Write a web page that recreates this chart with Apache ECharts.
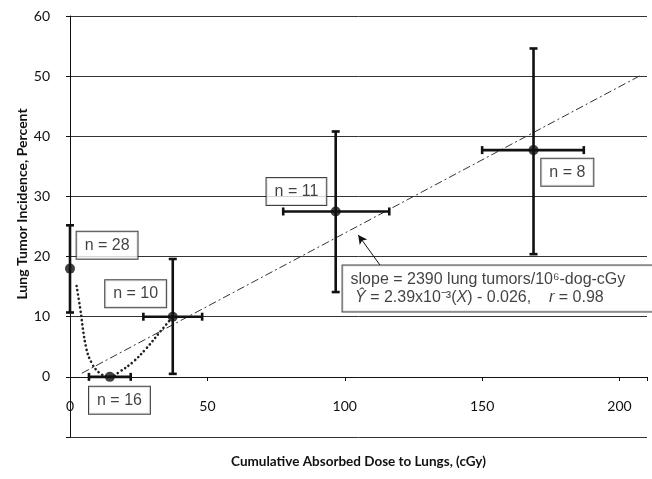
<!DOCTYPE html>
<html><head><meta charset="utf-8">
<script src="https://cdn.jsdelivr.net/npm/echarts@6/dist/echarts.min.js"></script>
<style>html,body{margin:0;padding:0;background:#fff}#c{width:652px;height:479px}</style>
</head><body><div id="c"></div>
<script>
// Data points: dose (cGy) and lung tumor incidence (%)
var doseX   = [0,    14.5, 37.4, 96.7, 168.7];
var incidY  = [18,   0,    10,   27.5, 37.7];
var xLow    = [0,    6.9,  26.7, 77.6, 150];
var xHigh   = [0,    22.1, 48.1, 116.2, 187];
var yLow    = [10.7, 0,    0.5,  14.1, 20.4];
var yHigh   = [25.2, 0,    19.6, 40.8, 54.6];
// Linear trend line (dash-dot) endpoints
var trendX = [4.3, 208];
var trendY = [0.6, 50.2];
// Dotted fitted curve through low-dose points
var curveX = [2.4, 3.6, 5.8, 7.9, 10.9, 14.6, 18.2, 23, 27.9, 32.8, 37.4];
var curveY = [15.1, 11.7, 5, 2.3, 0.6, 0, 0.9, 2.5, 4.8, 7.5, 10];
// Group size labels and their anchor (data units)
var nTexts = ['n = 28', 'n = 16', 'n = 10', 'n = 11', 'n = 8'];
var nAnchorX = [13.5, 18.0, 23.9, 82.4, 181];
var nAnchorY = [21.9, -3.9, 13.8, 30.8, 34.0];
// Axis tick labels
var xTicks = [0, 50, 100, 150, 200];
var yTicks = [0, 10, 20, 30, 40, 50, 60];
// Annotation
var eqAnchor = [99.2, 18.5];
var arrowFrom = [112.8, 18.6];
var arrowTo = [104.9, 23.6];

var chart = echarts.init(document.getElementById('c'), null, {renderer:'canvas'});
var tickFont = {fontFamily:'Lato', fontSize:14, color:'#111'};

var errData = doseX.map(function(x,i){return [x, incidY[i], xLow[i], xHigh[i], yLow[i], yHigh[i]];});

var option = {
  backgroundColor:'#fff',
  animation:false,
  grid:{left:70, top:16, right:5, bottom:42, containLabel:false, outerBoundsMode:'none'},
  xAxis:{
    type:'value', min:0, max:210, interval:50, position:'bottom', offset:-60,
    axisLine:{show:true, onZero:false, lineStyle:{color:'#111', width:1}},
    axisTick:{show:true, length:4, lineStyle:{color:'#111'}},
    axisLabel:Object.assign({margin:22, formatter:function(v){return xTicks.indexOf(v)>=0? String(v):'';}}, tickFont),
    splitLine:{show:false},
    name:'Cumulative Absorbed Dose to Lungs, (cGy)', nameLocation:'middle', nameGap:78,
    nameTextStyle:{fontFamily:'Lato', fontWeight:'bold', fontSize:13.5, color:'#111'}
  },
  yAxis:{
    type:'value', min:-10, max:60, interval:10,
    axisLine:{show:true, onZero:false, lineStyle:{color:'#111', width:1}},
    axisTick:{show:true, length:4, lineStyle:{color:'#111'}},
    axisLabel:Object.assign({margin:20, formatter:function(v){return yTicks.indexOf(v)>=0? String(v):'';}}, tickFont),
    splitLine:{show:true, lineStyle:{color:'#333', width:1}}
  },
  graphic:[{
    type:'text', x:22, y:204, rotation:Math.PI/2,
    style:{text:'Lung Tumor Incidence, Percent', fill:'#111', font:'bold 14px Lato', textAlign:'center', textVerticalAlign:'middle'}
  }],
  series:[
    {type:'line', data:trendX.map(function(x,i){return [x,trendY[i]];}), symbol:'none', silent:true,
     lineStyle:{color:'#333', width:1, type:[8,3,2,3]}, z:2,
     markLine:{silent:true, symbol:['none','arrow'], symbolSize:[7,9], label:{show:false},
       lineStyle:{color:'#111', width:1, type:'solid'},
       data:[[{coord:arrowFrom},{coord:arrowTo}]]}},
    {type:'line', smooth:0.4, data:curveX.map(function(x,i){return [x,curveY[i]];}), symbol:'none', silent:true,
     lineStyle:{color:'#222', width:2.6, type:[0.1,4.2], cap:'round'}, z:2},
    {type:'custom', data:errData, encode:{x:[0,2,3], y:[1,4,5]}, z:3,
     renderItem:function(params, api){
       var x=api.value(0), y=api.value(1), xl=api.value(2), xh=api.value(3), yl=api.value(4), yh=api.value(5);
       var ch=[];
       var st={stroke:'#111', lineWidth:2.6};
       var cap=4;
       if (yh>yl){
         var a=api.coord([x,yl]), b=api.coord([x,yh]);
         ch.push({type:'line', shape:{x1:a[0],y1:a[1],x2:b[0],y2:b[1]}, style:st});
         ch.push({type:'line', shape:{x1:a[0]-cap,y1:a[1],x2:a[0]+cap,y2:a[1]}, style:st});
         ch.push({type:'line', shape:{x1:b[0]-cap,y1:b[1],x2:b[0]+cap,y2:b[1]}, style:st});
       }
       if (xh>xl){
         var c=api.coord([xl,y]), d=api.coord([xh,y]);
         ch.push({type:'line', shape:{x1:c[0],y1:c[1],x2:d[0],y2:d[1]}, style:st});
         ch.push({type:'line', shape:{x1:c[0],y1:c[1]-cap,x2:c[0],y2:c[1]+cap}, style:st});
         ch.push({type:'line', shape:{x1:d[0],y1:d[1]-cap,x2:d[0],y2:d[1]+cap}, style:st});
       }
       return {type:'group', children:ch};
     }},
    {type:'scatter', data:doseX.map(function(x,i){return [x,incidY[i]];}), symbol:'circle', symbolSize:10,
     itemStyle:{color:'#111'}, z:4},
    {type:'scatter', data:nAnchorX.map(function(x,i){return [x,nAnchorY[i]];}), symbolSize:0, z:5, silent:true,
     label:{show:true, position:'inside', formatter:function(p){return nTexts[p.dataIndex];},
       fontFamily:'Liberation Sans', fontSize:16, color:'#111', backgroundColor:'#fff',
       borderColor:'#111', borderWidth:1, padding:[6,8,5,8]}},
    {type:'scatter', data:[eqAnchor], symbolSize:0, z:5, silent:true,
     label:{show:true, position:[0,0], align:'left', verticalAlign:'top',
       formatter:'{a|slope = 2390 lung tumors/10⁶-dog-cGy}\n{a| }{i|Ŷ}{a| = 2.39x10⁻³(}{i|X}{a|) - 0.026,    }{i|r}{a| = 0.98}',
       backgroundColor:'#fff', borderColor:'#111', borderWidth:1, padding:[5,20,5,8], width:300,
       rich:{a:{fontFamily:'Liberation Sans', fontSize:16, color:'#111', lineHeight:18},
             i:{fontFamily:'Liberation Sans', fontStyle:'italic', fontSize:16, color:'#111', lineHeight:18}}}}
  ]
};
chart.setOption(option);
</script></body></html>
